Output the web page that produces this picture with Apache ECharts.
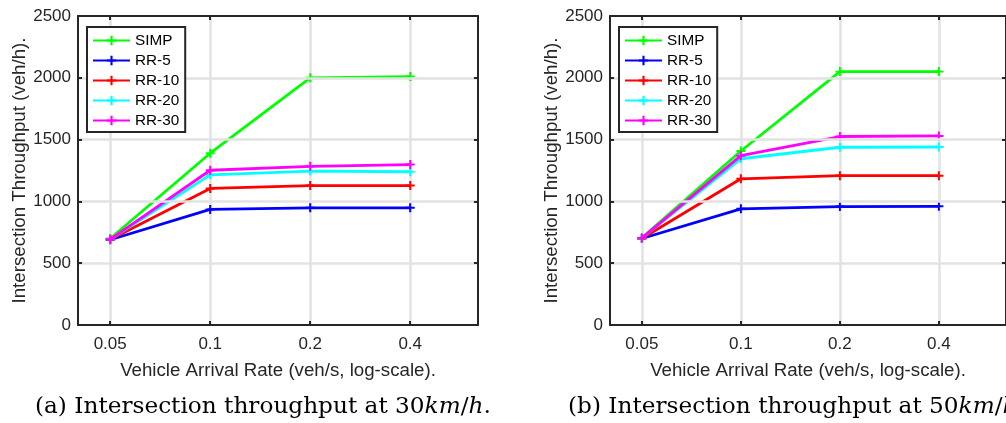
<!DOCTYPE html>
<html><head><meta charset="utf-8">
<script src="https://cdn.jsdelivr.net/npm/echarts@6.0.0/dist/echarts.min.js"></script>
<style>html,body{margin:0;padding:0;background:#fff;}#c{width:1006px;height:423px;}</style>
</head><body><div id="c"></div>
<script>
// ---- data ----
const rates = [0.05, 0.1, 0.2, 0.4];
const seriesNames = ['SIMP', 'RR-5', 'RR-10', 'RR-20', 'RR-30'];
const seriesColors = ['#00ff00', '#0000ff', '#ff0000', '#00ffff', '#ff00ff'];
// 30 km/h
const simp30 = [700, 1390, 2000, 2010];
const rr5_30 = [690, 935, 948, 948];
const rr10_30 = [692, 1105, 1128, 1128];
const rr20_30 = [693, 1215, 1245, 1240];
const rr30_30 = [693, 1252, 1284, 1298];
// 50 km/h
const simp50 = [705, 1408, 2050, 2050];
const rr5_50 = [700, 940, 958, 960];
const rr10_50 = [700, 1183, 1208, 1208];
const rr20_50 = [702, 1345, 1438, 1440];
const rr30_50 = [703, 1370, 1525, 1530];
const yTickValues = [0, 500, 1000, 1500, 2000, 2500];
const xAxisTitle = 'Vehicle Arrival Rate (veh/s, log-scale).';
const yAxisTitle = 'Intersection Throughput (veh/h).';
const captionA = '(a) Intersection throughput at 30{i|km}/{i|h}.';
const captionB = '(b) Intersection throughput at 50{i|km}/{i|h}.';

const SANS = '"Liberation Sans", Arial, Helvetica, sans-serif';
const SERIF = '"DejaVu Serif", serif';
const AX = '#262626';
const GRIDC = '#e2e2e2';
const PLUS = 'path://M3.9,0H6.1V3.9H10V6.1H6.1V10H3.9V6.1H0V3.9H3.9Z';

const chart = echarts.init(document.getElementById('c'), null, {renderer: 'canvas'});

function xAxes(gi) {
  const common = {
    gridIndex: gi, type: 'log', logBase: 2, min: 0.04, max: 0.64,
    axisLine: {show: true, onZero: false, lineStyle: {color: AX, width: 2}},
    axisTick: {show: true, inside: true, length: 4, customValues: rates, lineStyle: {color: AX, width: 2}},
    minorTick: {show: false}, minorSplitLine: {show: false}
  };
  return [
    Object.assign({}, common, {
      position: 'bottom',
      axisLabel: {show: true, customValues: rates, formatter: v => String(+(+v).toPrecision(3)),
        fontSize: 17, color: AX, margin: 11, fontFamily: SANS},
      splitLine: {show: true, lineStyle: {color: GRIDC, width: 2.5}},
      name: xAxisTitle, nameLocation: 'middle', nameGap: 36,
      nameTextStyle: {fontSize: 18.7, color: AX, fontFamily: SANS}
    }),
    Object.assign({}, common, {
      position: 'top', z: 5,
      axisLabel: {show: false}, splitLine: {show: false}
    })
  ];
}
function yAxes(gi) {
  const common = {
    gridIndex: gi, type: 'value', min: yTickValues[0], max: yTickValues[yTickValues.length - 1], interval: 500,
    axisLine: {show: true, onZero: false, lineStyle: {color: AX, width: 2}},
    axisTick: {show: true, inside: true, length: 4, lineStyle: {color: AX, width: 2}}
  };
  return [
    Object.assign({}, common, {
      position: 'left', z: 4,
      axisLabel: {show: true, fontSize: 17, color: AX, margin: 7, fontFamily: SANS, formatter: v => String(v)},
      splitLine: {show: true, showMinLine: false, showMaxLine: false, lineStyle: {color: GRIDC, width: 2.5}},
      name: yAxisTitle, nameLocation: 'middle', nameGap: 46,
      nameTextStyle: {fontSize: 18.7, color: AX, fontFamily: SANS}
    }),
    Object.assign({}, common, {
      position: 'right', z: 5,
      axisLabel: {show: false}, splitLine: {show: false}
    })
  ];
}

const sets = [
  [simp30, rr5_30, rr10_30, rr20_30, rr30_30],
  [simp50, rr5_50, rr10_50, rr20_50, rr30_50]
];
const series = [];
sets.forEach((set, gi) => {
  set.forEach((vals, k) => {
    series.push({
      name: seriesNames[k], type: 'line',
      xAxisIndex: gi * 2, yAxisIndex: gi * 2,
      data: rates.map((r, i) => [r, vals[i]]),
      symbol: PLUS, symbolSize: 9, showSymbol: true,
      lineStyle: {color: seriesColors[k], width: 2.8},
      itemStyle: {color: seriesColors[k]},
      emphasis: {disabled: true},
      z: 3 + k * 0.01,
      animation: false
    });
  });
});

function legend(left) {
  return {
    left: left, top: 27, orient: 'vertical', data: seriesNames,
    itemWidth: 37, itemHeight: 12, itemGap: 5,
    padding: [6, 6, 4, 5],
    borderColor: AX, borderWidth: 2, backgroundColor: '#fff', borderRadius: 0,
    textStyle: {fontSize: 15.3, color: '#000', fontFamily: SANS},
    selectedMode: false, z: 10
  };
}

function caption(x, text) {
  return {type: 'text', z: 10, style: {
    x: x, y: 407, text: text, verticalAlign: 'middle', align: 'left',
    font: '23.2px ' + SERIF, fill: '#000',
    rich: {i: {fontStyle: 'italic', fontSize: 23.2, fontFamily: SERIF}}
  }};
}

const option = {
  backgroundColor: '#fff',
  animation: false,
  grid: [
    {left: 78, top: 16, width: 400, height: 309},
    {left: 610, top: 16, width: 400, height: 309}
  ],
  xAxis: xAxes(0).concat(xAxes(1)),
  yAxis: yAxes(0).concat(yAxes(1)),
  legend: [legend(87), legend(619)],
  series: series,
  graphic: [caption(35, captionA), caption(568, captionB)]
};
chart.setOption(option);
</script>
</body></html>
